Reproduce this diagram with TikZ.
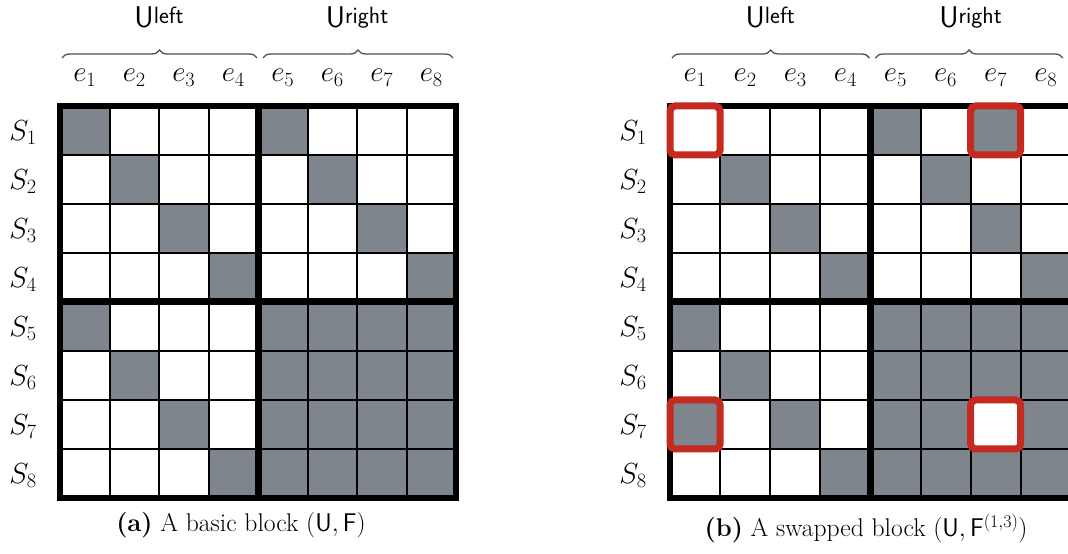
\RequirePackage{fix-cm}
\documentclass[tikz,border=0pt]{standalone}
\usetikzlibrary{decorations.pathreplacing}

\definecolor{cellgray}{RGB}{127,133,141}
\definecolor{swapred}{RGB}{196,42,32}
\definecolor{bracegray}{RGB}{80,80,80}

\tikzset{
  thinrule/.style={line width=2pt, black},
  midrule/.style={line width=7pt, black},
  outerrule/.style={line width=5.5pt, black, line join=miter},
  swapbox/.style={line width=7pt, swapred, rounded corners=5pt},
  collabel/.style={anchor=base, inner sep=0pt, font=\fontsize{29}{30}\selectfont},
  rowlabel/.style={anchor=base, inner sep=0pt, font=\fontsize{29}{30}\selectfont},
  setlabel/.style={anchor=base, inner sep=0pt},
  setbrace/.style={bracegray, line width=1.3pt, decorate, decoration={brace, amplitude=8pt}},
  capnode/.style={anchor=base, inner sep=0pt, font=\fontsize{25.6}{27}\selectfont},
}

% U with a sans superscript, as set above each half of a block
\newcommand\halflabel[1]{{\fontsize{30}{31}\selectfont\sffamily U\raisebox{4pt}{\fontsize{23.5}{24}\selectfont #1}}}

% grid rules, column/row labels and brace end points of one 8x8 block
\newcommand\blockgrid[2]{%
  \foreach \k in {1,2,3,5,6,7} {
    \draw[thinrule] (\k,0) -- (\k,8);
    \draw[thinrule] (0,\k) -- (8,\k);
  }
  \draw[midrule] (4,0) -- (4,8);
  \draw[midrule] (0,4) -- (8,4);
  \draw[outerrule] (0,0) rectangle (8,8);
  \foreach \k in {1,...,8} {
    \node[collabel] (#1e\k) at ([yshift=24pt]\k-0.5,0) {$e_{\k}$};
    \node[rowlabel] (#1s\k) at ([xshift=-37pt,yshift=-10pt]0,\k-0.5) {$S_{\k}$};
  }
  \node[setlabel] (#1left) at ([yshift=78pt]2,0) {\halflabel{left}};
  \node[setlabel] (#1right) at ([yshift=78pt]6,0) {\halflabel{right}};
  \coordinate (#1lb0) at ([xshift=2pt,yshift=48pt]0,0);
  \coordinate (#1lb1) at ([xshift=-1pt,yshift=48pt]4,0);
  \coordinate (#1rb0) at ([xshift=5pt,yshift=48pt]4,0);
  \coordinate (#1rb1) at ([xshift=#2,yshift=48pt]8,0);
}

\begin{document}
\begin{tikzpicture}[x=1pt,y=1pt]
\useasboundingbox (0,0) rectangle (1068,554);
\clip (0,0) rectangle (1068,554);
\fill[white] (0,0) rectangle (1068,554);

% ---- (a) basic block ----
\begin{scope}[shift={(60,448)}, x=49.5pt, y=-49pt]
  \foreach \r/\c in {1/1,2/2,3/3,4/4,1/5,2/6,3/7,4/8,5/1,6/2,7/3,8/4}
    \fill[cellgray] (\c-1,\r-1) rectangle (\c,\r);
  \fill[cellgray] (4,4) rectangle (8,8);
  \blockgrid{a}{-3pt}
\end{scope}
\draw[setbrace] (alb0) -- (alb1);
\draw[setbrace] (arb0) -- (arb1);
\node[capnode] (capa) at (241,22) {\textbf{(a)} A basic block $(\mathsf{U},\mathsf{F})$};

% ---- (b) swapped block ----
\begin{scope}[shift={(670,448)}, x=50.1pt, y=-49pt]
  \foreach \r/\c in {2/2,3/3,4/4,1/5,1/7,2/6,3/7,4/8,5/1,6/2,7/1,7/3,8/4}
    \fill[cellgray] (\c-1,\r-1) rectangle (\c,\r);
  \foreach \r in {5,...,8} \foreach \c in {5,...,8} {
    \ifnum\r\c=77 \else \fill[cellgray] (\c-1,\r-1) rectangle (\c,\r); \fi
  }
  \blockgrid{b}{-8pt}
  \draw[swapbox] (0,0) rectangle (1,1);
  \draw[swapbox] (6,0) rectangle (7,1);
  \draw[swapbox] (0,6) rectangle (1,7);
  \draw[swapbox] (6,6) rectangle (7,7);
\end{scope}
\draw[setbrace] (blb0) -- (blb1);
\draw[setbrace] (brb0) -- (brb1);
\node[capnode] (capb) at (866,17) {\textbf{(b)} A swapped block $(\mathsf{U},\mathsf{F}^{(1,3)})$};
\end{tikzpicture}
\end{document}
